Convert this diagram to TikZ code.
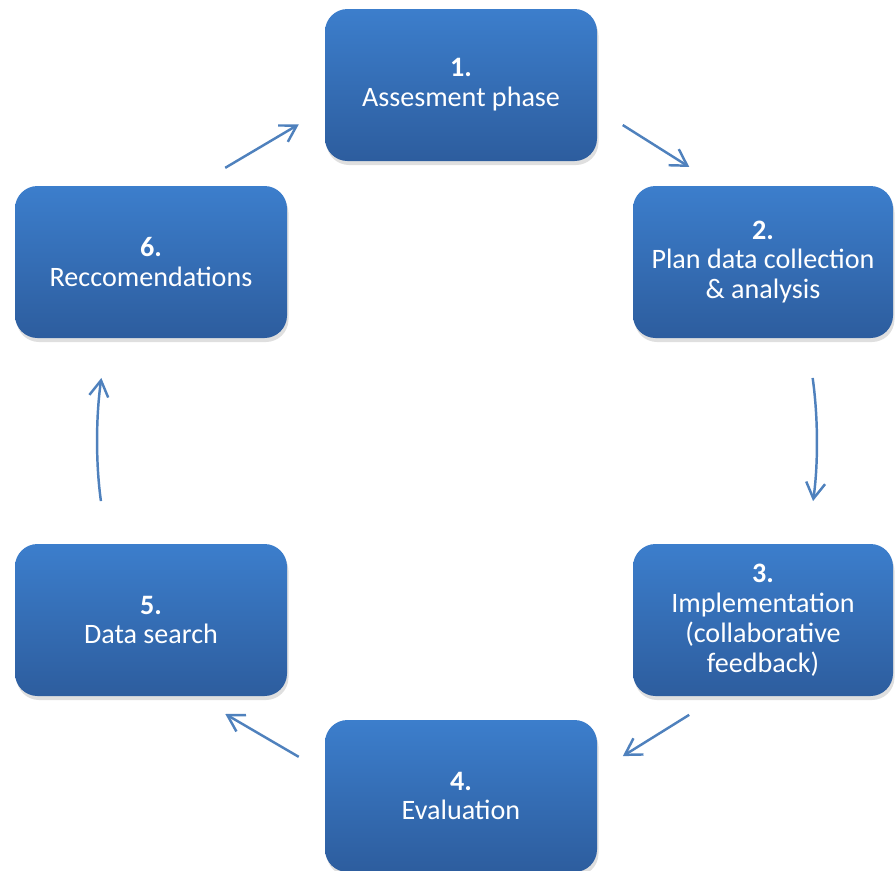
\documentclass[tikz,border=0pt]{standalone}
\usepackage{fontspec}
\setmainfont{Carlito}
\usetikzlibrary{arrows.meta}
\usetikzlibrary{shadows}
\definecolor{boxtop}{RGB}{60,126,204}
\definecolor{boxbot}{RGB}{45,93,158}
\definecolor{arrowblue}{RGB}{79,129,189}

\begin{document}
\begin{tikzpicture}[
	stage/.style={rounded corners=0.45cm, top color=boxtop, bottom color=boxbot, minimum height=3.04cm, text=white, align=center, font=\fontsize{16}{17}\selectfont, drop shadow={opacity=0.25, shadow xshift=0.03cm, shadow yshift=-0.08cm}},
	cycarrow/.style={arrowblue, line width=1.4pt, -{Straight Barb[length=3.2mm,width=3.8mm]}}
]
	\useasboundingbox (0,0) rectangle (17.9,-17.4);
	% the six phases
	\node[stage, minimum width=5.44cm] (b1) at (9.22,-1.70) {\textbf{1.}\\Assesment phase};
	\node[stage, minimum width=5.2cm] (b2) at (15.26,-5.24) {\textbf{2.}\\Plan data collection\\\& analysis};
	\node[stage, minimum width=5.2cm] (b3) at (15.26,-12.40) {\textbf{3.}\\Implementation\\(collaborative\\feedback)};
	\node[stage, minimum width=5.44cm] (b4) at (9.22,-15.92) {\textbf{4.}\\Evaluation};
	\node[stage, minimum width=5.44cm] (b5) at (3.02,-12.40) {\textbf{5.}\\Data search};
	\node[stage, minimum width=5.44cm] (b6) at (3.02,-5.24) {\textbf{6.}\\Reccomendations};
	% the cycle
	\draw[cycarrow, shorten <=0.6cm, shorten >=0.7cm] (b1.-10) -- (b2.120);
	\draw[cycarrow, shorten <=0.8cm, shorten >=0.86cm] (b2.-60) to[bend left=8] (b3.60);
	\draw[cycarrow, shorten <=0.7cm, shorten >=0.6cm] (b3.-120) -- (b4.10);
	\draw[cycarrow, shorten <=0.6cm, shorten >=0.7cm] (b4.170) -- (b5.-60);
	\draw[cycarrow, shorten <=0.86cm, shorten >=0.8cm] (b5.120) to[bend left=8] (b6.-120);
	\draw[cycarrow, shorten <=0.7cm, shorten >=0.6cm] (b6.60) -- (b1.190);
\end{tikzpicture}
\end{document}
